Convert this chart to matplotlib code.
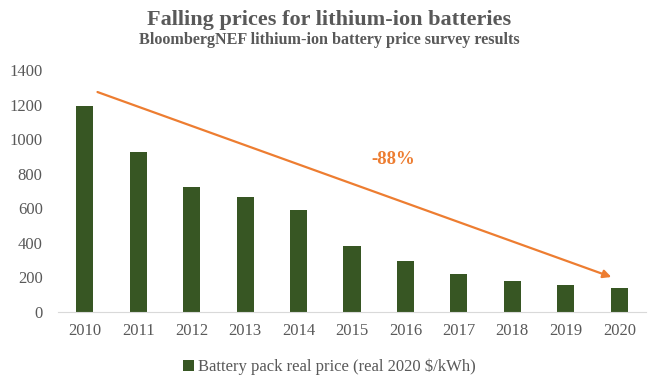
import numpy as np
import matplotlib

matplotlib.use("Agg")
import matplotlib.pyplot as plt

years = ["2010", "2011", "2012", "2013", "2014", "2015", "2016", "2017", "2018", "2019", "2020"]
prices = [1191, 924, 726, 668, 592, 384, 295, 221, 181, 157, 137]

plt.rcParams["font.family"] = ["Liberation Serif", "DejaVu Serif"]
grey = "#595959"
green = "#375623"
orange = "#ED7D31"

fig = plt.figure(figsize=(6.58, 3.86), dpi=100)
ax = fig.add_axes([58 / 658, 1 - 312 / 386, 588 / 658, 242 / 386])

x = np.arange(len(years))
ax.bar(x, prices, width=0.32, color=green, label="Battery pack real price (real 2020 $/kWh)")
ax.set_xlim(-0.5, len(years) - 0.5)
ax.set_ylim(0, 1400)
ax.set_yticks(range(0, 1401, 200))
ax.set_xticks(x)
ax.set_xticklabels(years)
ax.tick_params(colors=grey, labelsize=12, length=0)
ax.tick_params(axis="x", pad=8)
ax.tick_params(axis="y", pad=11)
for s in ["top", "right", "left"]:
    ax.spines[s].set_visible(False)
ax.spines["bottom"].set_color("#d9d9d9")

ax.annotate("", xy=(9.9, 197), xytext=(0.19, 1278),
            arrowprops=dict(arrowstyle="-|>", color=orange, lw=1.6, mutation_scale=12))
ax.text(5.78, 885, "-88%", color=orange, fontsize=13.5, fontweight="bold", ha="center", va="center")

fig.text(0.5, 1 - 20 / 386, "Falling prices for lithium-ion batteries", ha="center", va="center",
         fontsize=16, fontweight="bold", color=grey)
fig.text(0.5, 1 - 40 / 386, "BloombergNEF lithium-ion battery price survey results", ha="center", va="center",
         fontsize=11.6, fontweight="bold", color=grey)

leg = fig.legend(loc="center", bbox_to_anchor=(0.5, 1 - 367 / 386), frameon=False, fontsize=12,
                 handlelength=0.7, handleheight=0.7, handletextpad=0.2)
for t in leg.get_texts():
    t.set_color(grey)

plt.savefig("out.png", dpi=100)
plt.close()
